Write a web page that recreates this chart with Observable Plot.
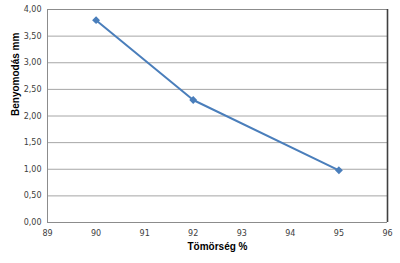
<!DOCTYPE html>
<html><head><meta charset="utf-8">
<script src="https://cdn.jsdelivr.net/npm/d3@7"></script>
<script src="https://cdn.jsdelivr.net/npm/@observablehq/plot@0.6"></script>
<style>body{margin:0;background:#fff;} svg{display:block;}</style>
</head><body><div id="chart"></div>
<script>
const tomorseg = [90, 92, 95];
const benyomodas = [3.8, 2.3, 0.98];
const xTicks = [89, 90, 91, 92, 93, 94, 95, 96];
const yTicks = [0, 0.5, 1, 1.5, 2, 2.5, 3, 3.5, 4];
const xTitle = "Tömörség %";
const yTitle = "Benyomodás mm";

const data = tomorseg.map((x, i) => ({x, y: benyomodas[i]}));
const fmt = v => d3.format(".2f")(v).replace(".", ",");
const font = "DejaVu Sans, Verdana, sans-serif";

const chart = Plot.plot({
  width: 400, height: 263,
  marginLeft: 47, marginRight: 13, marginTop: 9, marginBottom: 41,
  style: {fontFamily: font, fontSize: "8px", color: "#404040", background: "#fff"},
  x: {domain: [89, 96], ticks: xTicks, tickSize: 0, tickPadding: 8, tickFormat: d => String(d), label: null},
  y: {domain: [0, 4], ticks: yTicks, tickSize: 0, tickPadding: 6, tickFormat: fmt, label: null},
  marks: [
    Plot.ruleY(yTicks, {stroke: "#a6a6a6", strokeWidth: 1}),
    Plot.ruleY([4], {stroke: "#8c8c8c", strokeWidth: 1}),
    Plot.ruleX([xTicks[0]], {stroke: "#8c8c8c", strokeWidth: 1}),
    Plot.ruleY([0], {stroke: "#8c8c8c", strokeWidth: 1}),
    Plot.ruleX([xTicks[xTicks.length - 1]], {stroke: "#404040", strokeWidth: 1.6}),
    Plot.axisX({ticks: xTicks, tickSize: 0, tickPadding: 8, tickFormat: d => String(d), fill: "#404040"}),
    Plot.axisY({ticks: yTicks, tickSize: 0, tickPadding: 6, tickFormat: fmt, fill: "#404040"}),
    Plot.line(data, {x: "x", y: "y", stroke: "#4a7ebb", strokeWidth: 2}),
    Plot.dot(data, {x: "x", y: "y", symbol: "diamond2", r: 2.6, fill: "#4a7ebb", stroke: "#4a7ebb"}),
    Plot.text([xTitle], {frameAnchor: "bottom", dy: 27, text: d => d, fontWeight: "bold", fontSize: 10, fill: "#000", fontFamily: "Liberation Sans, Arial, sans-serif"}),
    Plot.text([yTitle], {frameAnchor: "left", dx: -32, rotate: -90, text: d => d, fontWeight: "bold", fontSize: 10, fill: "#000", fontFamily: "Liberation Sans, Arial, sans-serif"})
  ]
});
document.getElementById("chart").append(chart);
</script>
</body></html>
